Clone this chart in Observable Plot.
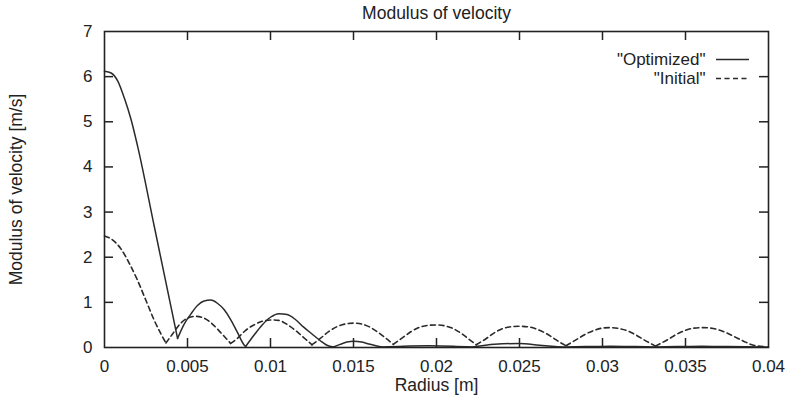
<!DOCTYPE html>
<html><head><meta charset="utf-8">
<script src="https://cdn.jsdelivr.net/npm/d3@7"></script>
<script src="https://cdn.jsdelivr.net/npm/@observablehq/plot@0.6"></script>
<style>html,body{margin:0;padding:0;background:#fff}svg{display:block}</style>
</head><body><div id="chart"></div>
<script>
// ---- data ----
const title = "Modulus of velocity";
const xLabel = "Radius [m]";
const yLabel = "Modulus of velocity [m/s]";
const seriesNames = ["Optimized", "Initial"];

const radiusOptimized = [0, 0.0004, 0.0008, 0.0012, 0.0016, 0.002, 0.003, 0.0044,
  0.0048, 0.0052, 0.0056, 0.006, 0.0064, 0.0068, 0.0072, 0.0076, 0.008, 0.0084, 0.0085,
  0.009, 0.0095, 0.01, 0.0105, 0.011, 0.0115, 0.012, 0.0125, 0.013, 0.0134, 0.0138,
  0.0142, 0.0146, 0.015, 0.0155, 0.016, 0.0167,
  0.018, 0.0195, 0.021, 0.0222, 0.0235, 0.025, 0.0262, 0.0275, 0.029, 0.0305, 0.032,
  0.0332, 0.0345, 0.036, 0.0375, 0.04];
const velocityOptimized = [6.12, 6.08, 5.9, 5.52, 5.05, 4.45, 2.68, 0.2,
  0.52, 0.74, 0.93, 1.03, 1.05, 0.98, 0.84, 0.62, 0.34, 0.06, 0.02,
  0.27, 0.5, 0.67, 0.75, 0.73, 0.62, 0.45, 0.3, 0.15, 0.05, 0.01,
  0.07, 0.12, 0.14, 0.12, 0.07, 0.01,
  0.03, 0.04, 0.03, 0.01, 0.07, 0.09, 0.05, 0.01, 0.02, 0.03, 0.02,
  0.01, 0.02, 0.03, 0.02, 0.01];

const radiusInitial = [0, 0.0005, 0.001, 0.0015, 0.002, 0.0025, 0.003, 0.0034, 0.0037,
  0.0041, 0.0045, 0.005, 0.0055, 0.006, 0.0065, 0.007, 0.0076,
  0.008, 0.0085, 0.009, 0.0095, 0.01, 0.0105, 0.011, 0.0115, 0.012, 0.0125,
  0.013, 0.0135, 0.014, 0.0145, 0.015, 0.0155, 0.016, 0.0165, 0.017, 0.0174,
  0.018, 0.0185, 0.019, 0.0195, 0.02, 0.0205, 0.021, 0.0215, 0.022, 0.0224,
  0.023, 0.0235, 0.024, 0.0245, 0.025, 0.0255, 0.026, 0.0265, 0.027, 0.0275, 0.0278,
  0.0285, 0.029, 0.0295, 0.03, 0.0305, 0.031, 0.0315, 0.032, 0.0325, 0.0332,
  0.034, 0.0345, 0.035, 0.0355, 0.036, 0.0365, 0.037, 0.0375, 0.038, 0.0385, 0.039, 0.0397];
const velocityInitial = [2.47, 2.38, 2.18, 1.86, 1.48, 1.04, 0.6, 0.3, 0.1,
  0.3, 0.5, 0.65, 0.69, 0.65, 0.52, 0.33, 0.09,
  0.2, 0.38, 0.5, 0.58, 0.61, 0.6, 0.51, 0.38, 0.22, 0.06,
  0.2, 0.35, 0.46, 0.52, 0.54, 0.52, 0.45, 0.33, 0.19, 0.07,
  0.23, 0.36, 0.45, 0.49, 0.5, 0.48, 0.42, 0.31, 0.17, 0.06,
  0.2, 0.33, 0.42, 0.46, 0.47, 0.46, 0.41, 0.33, 0.22, 0.1, 0.04,
  0.19, 0.3, 0.38, 0.43, 0.44, 0.42, 0.37, 0.28, 0.17, 0.03,
  0.19, 0.3, 0.38, 0.43, 0.44, 0.43, 0.39, 0.32, 0.23, 0.14, 0.06, 0.02];

const xDomain = [0, 0.04];
const yDomain = [0, 7];
const xTicks = [0, 0.005, 0.01, 0.015, 0.02, 0.025, 0.03, 0.035, 0.04];
const xTickLabels = ["0", "0.005", "0.01", "0.015", "0.02", "0.025", "0.03", "0.035", "0.04"];
const yTicks = [0, 1, 2, 3, 4, 5, 6, 7];
const yTickLabels = ["0", "1", "2", "3", "4", "5", "6", "7"];

// ---- build: split each curve into arcs at its local minima so the cusps stay sharp ----
function arcs(xs, ys) {
  const out = [];
  let seg = 0;
  for (let i = 0; i < xs.length; i++) {
    out.push({r: xs[i], v: ys[i], seg});
    if (i > 0 && i < xs.length - 1 && ys[i] < ys[i - 1] && ys[i] <= ys[i + 1]) {
      seg++;
      out.push({r: xs[i], v: ys[i], seg});
    }
  }
  return out;
}
const optimized = arcs(radiusOptimized, velocityOptimized);
const initial = arcs(radiusInitial, velocityInitial);
const innerX = xTicks.slice(1, -1);
const innerY = yTicks.slice(1, -1);
const ink = "#222";
const lineInk = "#2a2a2a";
const tick = 9;
const font = "'Liberation Sans', Arial, Helvetica, sans-serif";

const chart = Plot.plot({
  width: 787,
  height: 401,
  marginLeft: 104,
  marginRight: 19,
  marginTop: 31,
  marginBottom: 54,
  style: {fontFamily: font, fontSize: "17px", color: ink, background: "#fff"},
  x: {domain: xDomain},
  y: {domain: yDomain},
  marks: [
    Plot.axisX({ticks: xTicks, tickSize: 0, tickPadding: 12, tickFormat: (d) => xTickLabels[xTicks.indexOf(d)], label: null, fontSize: 17}),
    Plot.axisY({ticks: yTicks, tickSize: 0, tickPadding: 12, tickFormat: (d) => yTickLabels[yTicks.indexOf(d)], label: null, fontSize: 17}),
    // inward ticks (bottom, top, left, right)
    Plot.ruleX(innerX, {x: d => d, y1: yDomain[0], y2: yDomain[0], insetTop: -tick, stroke: ink, strokeWidth: 1.5}),
    Plot.ruleX(innerX, {x: d => d, y1: yDomain[1], y2: yDomain[1], insetBottom: -tick, stroke: ink, strokeWidth: 1.5}),
    Plot.ruleY(innerY, {y: d => d, x1: xDomain[0], x2: xDomain[0], insetRight: -tick, stroke: ink, strokeWidth: 1.5}),
    Plot.ruleY(innerY, {y: d => d, x1: xDomain[1], x2: xDomain[1], insetLeft: -tick, stroke: ink, strokeWidth: 1.5}),
    Plot.line(initial, {x: "r", y: "v", z: "seg", stroke: lineInk, strokeWidth: 1.6, strokeDasharray: "5,3.5", curve: "monotone-x"}),
    Plot.line(optimized, {x: "r", y: "v", z: "seg", stroke: lineInk, strokeWidth: 1.5, curve: "monotone-x"}),
    Plot.frame({stroke: ink, strokeWidth: 1.6}),
    // titles
    Plot.text([title], {frameAnchor: "top", dy: -18, lineAnchor: "middle", fontSize: 17.5, fill: ink}),
    Plot.text([xLabel], {frameAnchor: "bottom", dy: 38, lineAnchor: "middle", fontSize: 17.5, fill: ink}),
    Plot.text([yLabel], {frameAnchor: "left", dx: -88, rotate: -90, textAnchor: "middle", lineAnchor: "middle", fontSize: 17.5, fill: ink}),
    // legend
    Plot.text([`"${seriesNames[0]}"`], {frameAnchor: "top-right", dx: -63, dy: 28, textAnchor: "end", lineAnchor: "middle", fontSize: 17, fill: ink}),
    Plot.text([`"${seriesNames[1]}"`], {frameAnchor: "top-right", dx: -63, dy: 47, textAnchor: "end", lineAnchor: "middle", fontSize: 17, fill: ink}),
    Plot.ruleY([yDomain[1]], {dy: 28, insetLeft: 612, insetRight: 19, stroke: lineInk, strokeWidth: 1.5}),
    Plot.ruleY([yDomain[1]], {dy: 47, insetLeft: 612, insetRight: 19, stroke: lineInk, strokeWidth: 1.6, strokeDasharray: "5,3.5"})
  ]
});
document.getElementById("chart").appendChild(chart);
</script>
</body></html>
